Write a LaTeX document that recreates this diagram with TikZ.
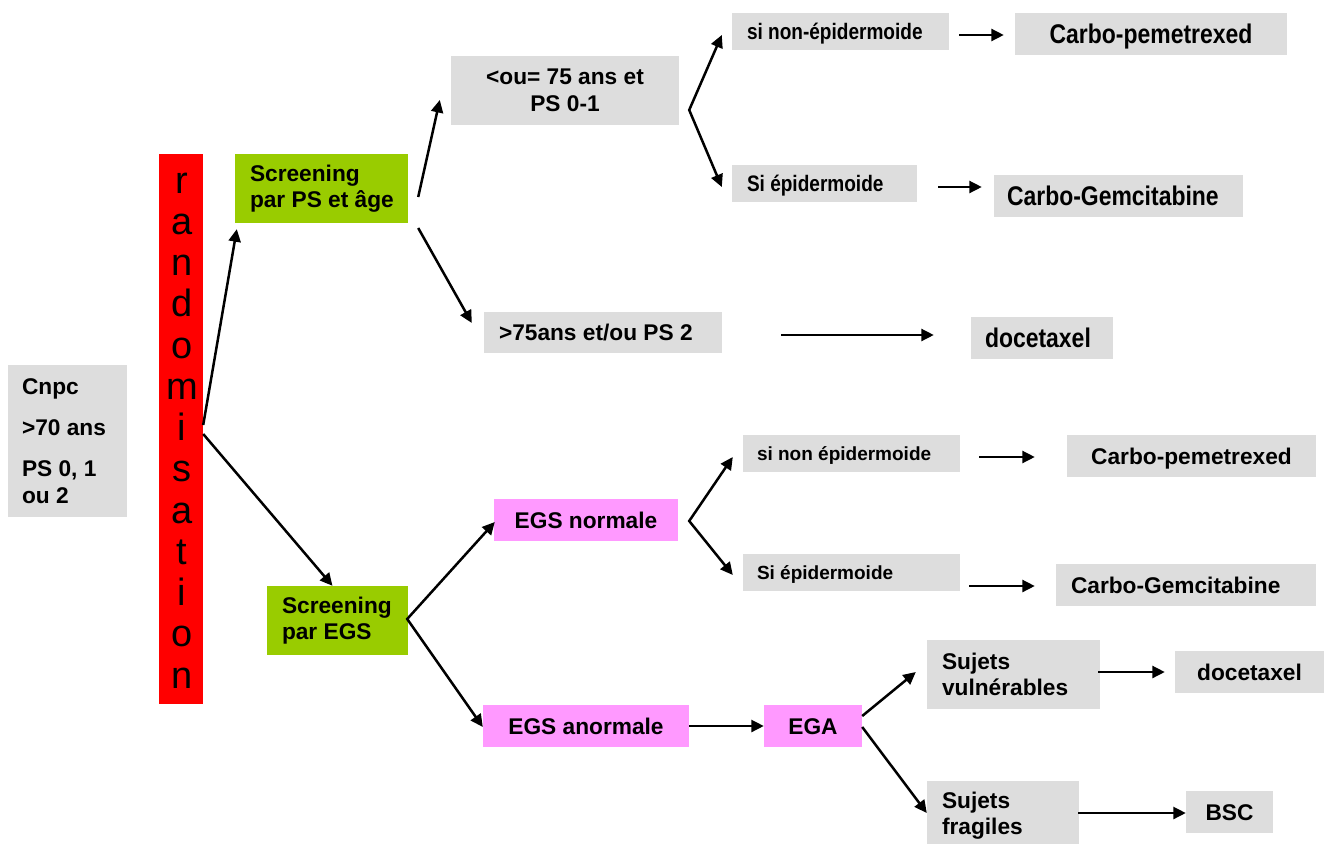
\documentclass[tikz,border=0pt]{standalone}
\usepackage{fontspec}
\setmainfont{Liberation Sans}
\newfontfamily\narfont[FakeStretch=0.85]{Liberation Sans}
\usetikzlibrary{arrows.meta,calc}
\definecolor{boxgray}{HTML}{DDDDDD}
\definecolor{boxgreen}{HTML}{99CC00}
\definecolor{boxpink}{HTML}{FF99FF}
\definecolor{barred}{HTML}{FF0000}
\begin{document}
\begin{tikzpicture}[x=1pt,y=-1pt,
  box/.style={inner sep=0pt, draw=none},
  graybox/.style={box, fill=boxgray},
  greenbox/.style={box, fill=boxgreen},
  pinkbox/.style={box, fill=boxpink},
  txt/.style={inner sep=0pt},
  big/.style={font=\bfseries\fontsize{22.7}{26.5}\selectfont},
  bigone/.style={big, text height=16.3pt, text depth=0pt},
  smallone/.style={font=\bfseries\fontsize{19}{22}\selectfont, text height=13.6pt, text depth=0pt},
  nsmall/.style={font=\narfont\bfseries\fontsize{22.4}{26}\selectfont, text height=16pt, text depth=0pt},
  nbig/.style={font=\narfont\bfseries\fontsize{27}{31}\selectfont, text height=19.3pt, text depth=0pt},
  letter/.style={inner sep=0pt, anchor=base, font=\fontsize{38}{40}\selectfont},
  arr/.style={line width=2.5pt, -{Triangle[length=12.5pt,width=12pt]}},
  fork/.style={line width=2.5pt, line join=miter, {Triangle[length=12.5pt,width=12pt]}-{Triangle[length=12.5pt,width=12pt]}}
]
\useasboundingbox (0,0) rectangle (1324,843);
\clip (0,0) rectangle (1324,843);

% left
\node[graybox, minimum width=119pt, minimum height=152pt] (cnpc) at (67.5,441) {};
\node[txt, big, align=left, anchor=west] (cnpct) at ($(cnpc.west)+(14,0)$) {Cnpc\\[14.5pt]>70 ans\\[14.5pt]PS 0, 1\\ou 2};

\node[box, fill=barred, minimum width=44pt, minimum height=550pt] (rand) at (181,429) {};
\foreach \l [count=\i from 0] in {r,a,n,d,o,m,i,s,a,t,i,o,n}
  \node[letter] (rl\i) at (182,{193+41.25*\i}) {\l};

\node[greenbox, minimum width=173pt, minimum height=69pt] (gps) at (321.5,188.5) {};
\node[txt, big, align=left, anchor=west] (gpst) at ($(gps.west)+(15,0)$) {Screening\\par PS et âge};
\node[greenbox, minimum width=141pt, minimum height=69pt] (gegs) at (337.5,620.5) {};
\node[txt, big, align=left, anchor=west] (gegst) at ($(gegs.west)+(15,0)$) {Screening\\par EGS};

% upper branch
\node[graybox, minimum width=228pt, minimum height=69pt] (po75) at (565,90.5) {};
\node[txt, big, align=center] (po75t) at (po75.center) {<ou= 75 ans et\\PS 0-1};
\node[graybox, minimum width=238pt, minimum height=41pt] (gt75) at (603,332.5) {};
\node[txt, bigone, anchor=west] (gt75t) at ($(gt75.west)+(15,0)$) {>75ans et/ou PS 2};

\node[graybox, minimum width=217pt, minimum height=37pt] (sinon1) at (840.5,31.5) {};
\node[txt, nsmall, anchor=west] (sinon1t) at ($(sinon1.west)+(15,0)$) {si non-épidermoide};
\node[graybox, minimum width=185pt, minimum height=37pt] (siep1) at (824.5,183.5) {};
\node[txt, nsmall, anchor=west] (siep1t) at ($(siep1.west)+(15,0)$) {Si épidermoide};

\node[graybox, minimum width=272pt, minimum height=42pt] (cp1) at (1151,34) {};
\node[txt, nbig] (cp1t) at (cp1.center) {Carbo-pemetrexed};
\node[graybox, minimum width=249pt, minimum height=42pt] (cg1) at (1118.5,196) {};
\node[txt, nbig, anchor=west] (cg1t) at ($(cg1.west)+(13,0)$) {Carbo-Gemcitabine};
\node[graybox, minimum width=142pt, minimum height=42pt] (doc1) at (1042,338) {};
\node[txt, nbig, anchor=west] (doc1t) at ($(doc1.west)+(14,0)$) {docetaxel};

% lower branch
\node[pinkbox, minimum width=184pt, minimum height=42pt] (egsn) at (586,520) {};
\node[txt, bigone] (egsnt) at (egsn.center) {EGS normale};
\node[pinkbox, minimum width=206pt, minimum height=42pt] (egsa) at (586,726) {};
\node[txt, bigone] (egsat) at (egsa.center) {EGS anormale};
\node[pinkbox, minimum width=98pt, minimum height=42pt] (ega) at (813,726) {};
\node[txt, bigone] (egat) at (ega.center) {EGA};

\node[graybox, minimum width=217pt, minimum height=37pt] (sinon2) at (851.5,453.5) {};
\node[txt, smallone, anchor=west] (sinon2t) at ($(sinon2.west)+(14,0)$) {si non épidermoide};
\node[graybox, minimum width=217pt, minimum height=37pt] (siep2) at (851.5,572.5) {};
\node[txt, smallone, anchor=west] (siep2t) at ($(siep2.west)+(14,0)$) {Si épidermoide};

\node[graybox, minimum width=249pt, minimum height=42pt] (cp2) at (1191.5,456) {};
\node[txt, bigone] (cp2t) at (cp2.center) {Carbo-pemetrexed};
\node[graybox, minimum width=260pt, minimum height=42pt] (cg2) at (1186,585) {};
\node[txt, bigone, anchor=west] (cg2t) at ($(cg2.west)+(15,0)$) {Carbo-Gemcitabine};

\node[graybox, minimum width=173pt, minimum height=69pt] (sv) at (1013.5,674.5) {};
\node[txt, big, align=left, anchor=west] (svt) at ($(sv.west)+(15,0)$) {Sujets\\vulnérables};
\node[graybox, minimum width=149pt, minimum height=42pt] (doc2) at (1249.5,672) {};
\node[txt, bigone] (doc2t) at (doc2.center) {docetaxel};
\node[graybox, minimum width=152pt, minimum height=69pt] (sf) at (1003,815.5) {};
\node[txt, big, align=left, anchor=west] (sft) at ($(sf.west)+(15,0)$) {Sujets\\fragiles};
\node[graybox, minimum width=87pt, minimum height=42pt] (bsc) at (1229.5,812) {};
\node[txt, bigone] (bsct) at (bsc.center) {BSC};

% connectors
\draw[arr] ($(rand.east)+(0,-4)$) -- ($(gps.south west)+(2,6)$);
\draw[arr] ($(rand.east)+(0,5)$) -- ($(gegs.north)+(-5,0)$);
\draw[arr] ($(gps.east)+(10,8.5)$) -- ($(po75.west)+(-11,9.5)$);
\draw[arr] ($(gps.east)+(10,39.5)$) -- ($(gt75.west)+(-12,-9.5)$);

\coordinate (f1) at ($(po75.east)+(10,19.5)$);
\draw[fork] ($(sinon1.west)+(-10,3.5)$) -- (f1) -- ($(siep1.west)+(-10,3.5)$);
\draw[arr] ($(sinon1.east |- cp1.west)+(10,1)$) -- ($(cp1.west)+(-11,1)$);
\draw[arr] ($(siep1.east)+(21,3.5)$) -- ($(siep1.east -| cg1.west)+(-12,3.5)$);
\draw[arr] ($(gt75.east)+(59,2.5)$) -- ($(gt75.east -| doc1.west)+(-37,2.5)$);

\coordinate (f2) at ($(gegs.east)+(-1,-1.5)$);
\draw[fork] ($(egsn.west)+(1,2)$) -- (f2) -- ($(egsa.west)+(0,1)$);
\coordinate (f3) at ($(egsn.east)+(11,1)$);
\draw[fork] ($(sinon2.west)+(-10,3.5)$) -- (f3) -- ($(siep2.west)+(-10,2.5)$);
\draw[arr] (egsa.east) -- (ega.west);
\draw[arr] ($(sinon2.east)+(19,3.5)$) -- ($(sinon2.east -| cp2.west)+(-32,3.5)$);
\draw[arr] ($(siep2.east |- cg2.west)+(9,1)$) -- ($(cg2.west)+(-21,1)$);
\draw[arr] ($(ega.east)+(0,-10)$) -- ($(sv.west)+(-11,-2.5)$);
\draw[arr] ($(ega.east)+(0,1)$) -- ($(sf.west)+(0,-2.5)$);
\draw[arr] ($(sv.east)+(-2,-2.5)$) -- ($(sv.east -| doc2.west)+(-10,-2.5)$);
\draw[arr] ($(sf.east)+(-1,-2.5)$) -- ($(sf.east -| bsc.west)+(0,-2.5)$);
\end{tikzpicture}
\end{document}
